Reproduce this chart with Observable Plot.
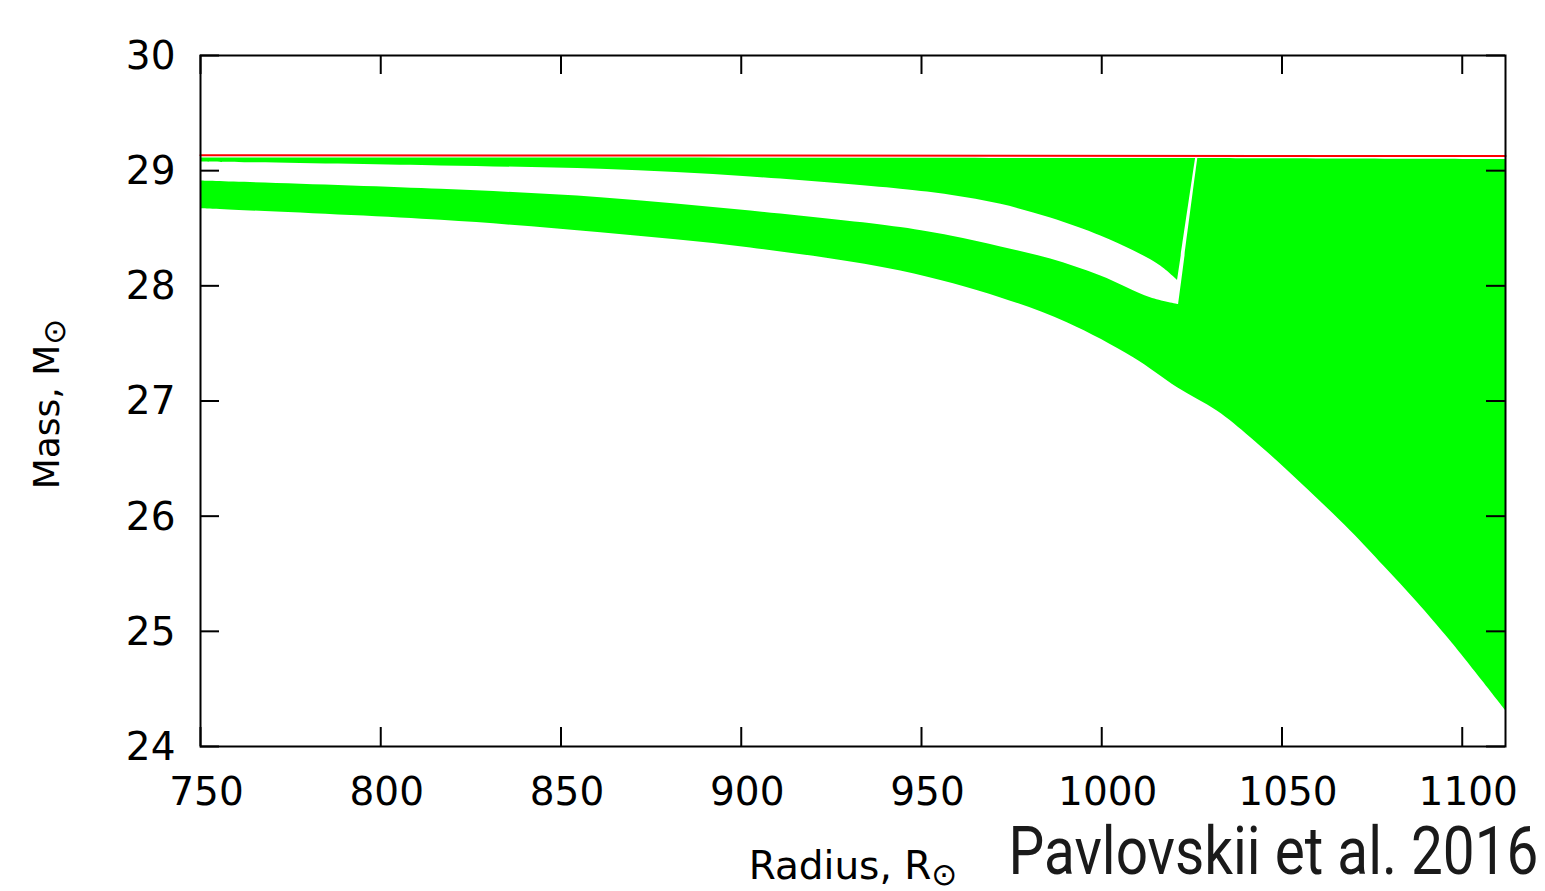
<!DOCTYPE html>
<html>
<head>
<meta charset="utf-8">
<script src="https://cdn.jsdelivr.net/npm/d3@7"></script>
<script src="https://cdn.jsdelivr.net/npm/@observablehq/plot@0.6"></script>
<style>
html, body { margin: 0; padding: 0; background: #fff; overflow: hidden; }
</style>
</head>
<body>
<div id="chart"></div>
<script>
// ---- tick labels ----
const xTicks = [750, 800, 850, 900, 950, 1000, 1050, 1100];
const yTicks = [24, 25, 26, 27, 28, 29, 30];
const xLabel = "Radius, R";
const yLabel = "Mass, M";
const labelSub = "\u2299";
const credit = "Pavlovskii et al. 2016";

// ---- red line (radius, mass) ----
const redR = [750, 1112];
const redM = [29.134, 29.127];

// ---- upper green band ----
const upperTopR = [750, 1025.9];
const upperTopM = [29.115, 29.110];
const upperBottomR = [750, 816.6, 860.9, 902.5, 944.1, 958.0, 971.9, 985.7, 999.6, 1008.8, 1016.2, 1020.9];
const upperBottomM = [29.080, 29.045, 29.016, 28.949, 28.843, 28.791, 28.712, 28.593, 28.437, 28.307, 28.177, 28.052];

// ---- lower green band + large region: top edge ----
const lowerTopR = [750, 816.6, 860.9, 902.5, 944.1, 958.0, 971.9, 985.7, 999.6, 1013.4, 1021.2, 1026.5, 1112];
const lowerTopM = [28.915, 28.843, 28.770, 28.654, 28.511, 28.437, 28.342, 28.237, 28.090, 27.901, 27.842, 29.110, 29.101];
// ---- bottom edge ----
const lowerBottomR = [750, 816.6, 860.9, 902.5, 944.1, 971.9, 990.3, 1008.7, 1020.9, 1031.9, 1041.2, 1055.0, 1068.9, 1078.1, 1087.3, 1096.6, 1112];
const lowerBottomM = [28.674, 28.573, 28.466, 28.333, 28.133, 27.899, 27.684, 27.380, 27.120, 26.918, 26.686, 26.295, 25.876, 25.572, 25.259, 24.920, 24.313];

// corner points (kept sharp: doubled so the spline runs straight through them)
const upperCorners = new Set(["1025.9", "1020.9"]);
const lowerCorners = new Set(["1021.2", "1026.5", "1112"]);

function polygon(topR, topM, botR, botM, corners) {
  const out = [];
  const push = (r, m) => {
    out.push({r, m});
    if (corners.has(String(r))) out.push({r, m});
  };
  topR.forEach((r, i) => push(r, topM[i]));
  for (let i = botR.length - 1; i >= 0; i--) push(botR[i], botM[i]);
  return out;
}
const upperPoly = polygon(upperTopR, upperTopM, upperBottomR, upperBottomM, upperCorners);
const lowerPoly = polygon(lowerTopR, lowerTopM, lowerBottomR, lowerBottomM, lowerCorners);
const redLine = redR.map((r, i) => ({r, m: redM[i]}));

const W = 1545, H = 891;
const mL = 200, mR = 40, mT = 55, mB = 145;
const tickLen = 19;
const frameW = W - mL - mR, frameH = H - mT - mB;
const green = "#00ff00";

const plot = Plot.plot({
  width: W, height: H,
  marginLeft: mL, marginRight: mR, marginTop: mT, marginBottom: mB,
  style: {fontFamily: "DejaVu Sans", fontSize: "39px", color: "black", background: "white"},
  x: {domain: [750, 1112]},
  y: {domain: [24, 30]},
  marks: [
    Plot.line(upperPoly, {x: "r", y: "m", fill: green, stroke: "none", curve: "catmull-rom"}),
    Plot.line(lowerPoly, {x: "r", y: "m", fill: green, stroke: "none", curve: "catmull-rom"}),
    Plot.line(redLine, {x: "r", y: "m", stroke: "#ff0000", strokeWidth: 2}),
    Plot.ruleX(xTicks, {x: d => d, insetTop: frameH - tickLen, stroke: "black", strokeWidth: 2}),
    Plot.ruleX(xTicks, {x: d => d, insetBottom: frameH - tickLen, stroke: "black", strokeWidth: 2}),
    Plot.ruleY(yTicks, {y: d => d, insetRight: frameW - tickLen, stroke: "black", strokeWidth: 2}),
    Plot.ruleY(yTicks, {y: d => d, insetLeft: frameW - tickLen, stroke: "black", strokeWidth: 2}),
    Plot.frame({stroke: "black", strokeWidth: 2}),
    Plot.axisX(xTicks, {tickSize: 0, tickPadding: 31, fontSize: 39, dx: 6, label: null, tickFormat: d => String(d)}),
    Plot.axisY(yTicks, {tickSize: 0, tickPadding: 25, fontSize: 39, dy: 1, label: null, tickFormat: d => String(d)}),
    Plot.text([xLabel], {frameAnchor: "bottom", textAnchor: "middle", lineAnchor: "bottom", dy: 132, fontSize: 39, text: d => d, fill: "black"}),
    Plot.text([yLabel], {frameAnchor: "left", textAnchor: "middle", lineAnchor: "bottom", rotate: -90, dx: -142, dy: 3, fontSize: 36, text: d => d, fill: "black"}),
    Plot.text([credit], {frameAnchor: "bottom-left", textAnchor: "start", lineAnchor: "bottom", dx: 808, dy: 127, fontSize: 66, fontFamily: "Roboto", fill: "#1a1a1a", text: d => d})
  ]
});
document.getElementById("chart").appendChild(plot);

// subscripts (sun symbol)
d3.select(plot).selectAll("text").filter(function() { return this.textContent === xLabel || this.textContent === yLabel; })
  .each(function() {
    d3.select(this).append("tspan").attr("font-size", 31).attr("dy", 6).text(labelSub);
  });

// credit: condensed horizontally to the reference width (scale about its anchor)
d3.select(plot).selectAll("text").filter(function() { return this.textContent === credit; })
  .each(function() {
    const bb = this.getBBox();
    const s = 530 / bb.width;
    const t = this.getAttribute("transform") || "";
    this.setAttribute("transform", `${t} scale(${s},1)`);
  });
</script>
</body>
</html>
